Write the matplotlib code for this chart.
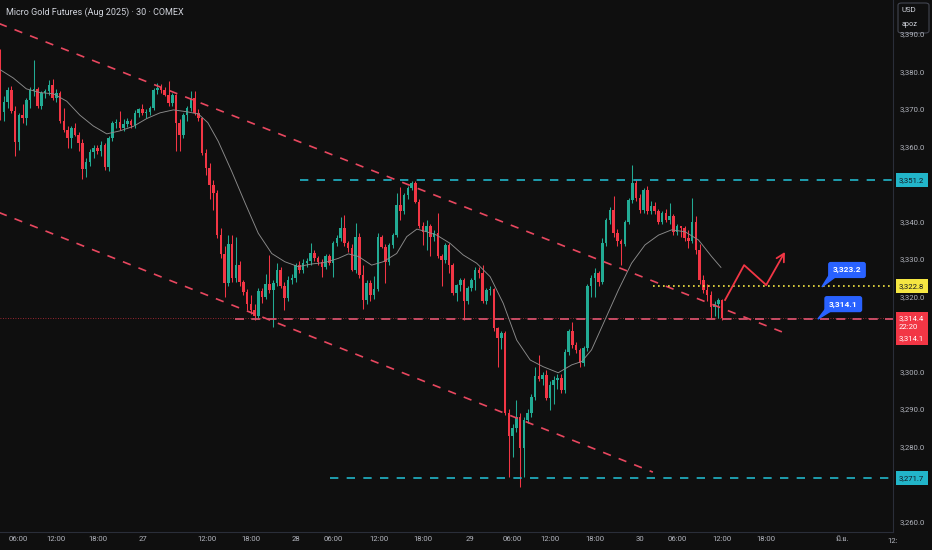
import matplotlib
matplotlib.use("Agg")
import matplotlib.pyplot as plt
import matplotlib.transforms as mtransforms
from matplotlib.patches import Rectangle, FancyBboxPatch, Polygon
from matplotlib import font_manager
from matplotlib.ft2font import FT2Font

# --------------------------------------------------
# Data (30 min candles)
# --------------------------------------------------

opens = [3384.0, 3369.4, 3372.0, 3375.2, 3369.5, 3361.4, 3368.5, 3367.8, 3372.5, 3374.8,
         3375.4, 3371.0, 3374.3, 3375.0, 3376.5, 3373.0, 3374.5, 3366.8, 3364.5, 3362.3,
         3365.0, 3363.2, 3361.1, 3354.0, 3356.0, 3358.7, 3359.6, 3359.0, 3360.5, 3354.6,
         3362.3, 3366.3, 3366.6, 3365.0, 3366.2, 3366.8, 3365.8, 3369.0, 3370.0, 3369.0,
         3369.3, 3370.3, 3375.2, 3375.7, 3375.2, 3373.9, 3371.6, 3373.8, 3366.3, 3363.2,
         3368.5, 3370.3, 3373.0, 3369.0, 3367.6, 3358.3, 3354.3, 3349.9, 3347.6, 3336.5,
         3331.5, 3323.6, 3334.0, 3325.0, 3328.5, 3324.0, 3321.4, 3318.0, 3316.5, 3314.8,
         3321.6, 3320.0, 3323.4, 3321.9, 3323.6, 3327.2, 3323.0, 3319.6, 3324.5, 3325.0,
         3328.5, 3327.2, 3329.0, 3329.5, 3331.6, 3330.3, 3329.4, 3328.1, 3330.8, 3329.0,
         3334.3, 3335.6, 3338.3, 3334.3, 3333.0, 3327.2, 3336.1, 3325.8, 3319.2, 3323.6,
         3320.5, 3322.0, 3336.1, 3333.4, 3329.4, 3333.9, 3336.5, 3344.5, 3342.8, 3347.2,
         3349.0, 3350.3, 3345.4, 3338.8, 3337.4, 3339.0, 3336.1, 3337.0, 3330.8, 3329.9,
         3333.9, 3328.5, 3321.0, 3323.2, 3324.5, 3318.8, 3322.3, 3324.5, 3327.2, 3326.5,
         3318.8, 3321.9, 3322.0, 3311.6, 3309.0, 3310.3, 3289.0, 3282.8, 3285.0, 3288.1,
         3279.7, 3287.2, 3289.0, 3293.4, 3298.8, 3298.0, 3299.2, 3293.0, 3296.5, 3297.9,
         3298.5, 3295.2, 3305.4, 3310.8, 3307.2, 3305.9, 3302.3, 3306.3, 3322.8, 3325.0,
         3326.3, 3324.0, 3334.3, 3340.5, 3343.2, 3337.0, 3334.8, 3334.0, 3340.1, 3345.9,
         3350.3, 3346.3, 3343.2, 3348.5, 3342.8, 3344.3, 3342.8, 3340.1, 3342.3, 3340.5,
         3341.5, 3337.4, 3338.8, 3338.3, 3335.6, 3335.0, 3340.1, 3332.5, 3324.5, 3321.9,
         3320.5, 3317.4, 3318.0, 3319.2]

highs = [3386.0, 3373.5, 3376.0, 3376.2, 3371.0, 3369.0, 3371.5, 3373.0, 3376.0, 3383.2,
         3376.0, 3375.0, 3375.5, 3377.9, 3378.0, 3375.5, 3375.0, 3370.3, 3365.5, 3365.5,
         3366.3, 3364.0, 3362.0, 3357.0, 3359.5, 3360.5, 3360.5, 3361.5, 3361.0, 3363.0,
         3367.0, 3367.5, 3369.7, 3367.5, 3367.8, 3367.5, 3369.8, 3370.5, 3371.5, 3370.0,
         3371.0, 3375.8, 3377.0, 3376.8, 3376.0, 3377.5, 3374.5, 3374.2, 3367.5, 3369.0,
         3371.0, 3374.8, 3375.0, 3370.0, 3368.0, 3359.5, 3355.6, 3351.2, 3348.5, 3338.5,
         3333.5, 3336.5, 3336.5, 3336.0, 3329.5, 3324.5, 3322.0, 3320.5, 3318.0, 3322.5,
         3322.5, 3326.0, 3331.2, 3324.5, 3329.0, 3328.0, 3324.0, 3325.5, 3326.0, 3329.0,
         3329.5, 3330.0, 3330.5, 3334.3, 3332.5, 3331.0, 3330.0, 3331.5, 3331.5, 3335.0,
         3336.5, 3341.4, 3341.9, 3335.0, 3334.0, 3339.6, 3337.0, 3328.5, 3324.5, 3324.5,
         3325.5, 3337.0, 3336.5, 3334.0, 3334.5, 3337.0, 3347.6, 3349.4, 3347.8, 3349.5,
         3350.8, 3350.8, 3346.0, 3340.1, 3340.5, 3339.5, 3337.8, 3342.3, 3331.5, 3334.5,
         3334.5, 3329.0, 3323.5, 3325.0, 3325.0, 3323.0, 3325.0, 3328.1, 3328.0, 3328.5,
         3322.5, 3323.0, 3322.5, 3312.0, 3311.0, 3311.0, 3290.0, 3286.0, 3292.5, 3289.0,
         3288.0, 3290.0, 3294.0, 3301.4, 3304.5, 3300.0, 3300.5, 3297.5, 3299.0, 3299.5,
         3299.5, 3306.0, 3311.5, 3313.4, 3308.0, 3306.5, 3307.0, 3323.5, 3325.8, 3327.7,
         3327.0, 3335.6, 3341.0, 3344.1, 3346.8, 3338.0, 3335.5, 3340.5, 3346.5, 3355.2,
         3351.2, 3347.5, 3349.0, 3349.5, 3345.5, 3345.4, 3343.5, 3342.8, 3343.5, 3345.0,
         3342.0, 3339.5, 3339.0, 3339.0, 3337.8, 3346.3, 3341.5, 3334.0, 3325.8, 3323.5,
         3321.5, 3318.8, 3319.8, 3319.5]

lows = [3367.2, 3367.0, 3370.5, 3369.0, 3357.5, 3359.2, 3366.5, 3365.8, 3370.5, 3373.5,
        3370.5, 3370.0, 3373.0, 3373.8, 3372.5, 3372.0, 3366.5, 3364.0, 3359.6, 3359.6,
        3362.8, 3358.8, 3351.4, 3352.0, 3355.0, 3357.0, 3358.0, 3357.5, 3353.8, 3353.7,
        3361.5, 3365.0, 3364.5, 3364.3, 3365.3, 3365.0, 3365.0, 3368.0, 3368.5, 3367.8,
        3368.5, 3369.8, 3374.0, 3374.5, 3373.5, 3371.0, 3371.0, 3359.0, 3359.0, 3362.5,
        3367.0, 3369.5, 3368.5, 3367.0, 3357.8, 3352.5, 3346.0, 3343.2, 3335.8, 3330.5,
        3320.1, 3323.0, 3324.0, 3324.0, 3323.0, 3320.5, 3316.5, 3315.5, 3313.9, 3314.0,
        3318.5, 3319.5, 3321.0, 3312.1, 3323.0, 3322.5, 3316.5, 3319.0, 3323.5, 3324.0,
        3326.5, 3326.5, 3328.0, 3328.5, 3329.5, 3328.5, 3325.4, 3327.5, 3328.5, 3325.4,
        3333.5, 3335.0, 3333.5, 3332.0, 3326.8, 3326.5, 3325.0, 3316.9, 3318.0, 3319.0,
        3319.5, 3321.5, 3333.0, 3323.6, 3328.5, 3333.0, 3336.0, 3340.5, 3342.0, 3346.0,
        3348.5, 3345.0, 3338.5, 3333.9, 3332.5, 3330.8, 3335.0, 3330.5, 3322.8, 3329.0,
        3326.3, 3320.5, 3318.8, 3321.5, 3313.9, 3318.0, 3321.5, 3321.9, 3325.0, 3318.5,
        3318.0, 3320.5, 3311.0, 3301.4, 3306.0, 3288.5, 3272.1, 3277.4, 3284.0, 3269.4,
        3272.1, 3286.5, 3288.0, 3292.5, 3297.5, 3296.5, 3292.5, 3289.9, 3291.5, 3295.5,
        3294.5, 3294.5, 3304.5, 3306.5, 3305.0, 3301.4, 3301.5, 3305.5, 3320.0, 3320.1,
        3323.0, 3323.5, 3333.5, 3339.5, 3336.0, 3333.5, 3328.5, 3333.5, 3339.5, 3345.0,
        3345.5, 3342.5, 3342.5, 3342.0, 3342.0, 3342.0, 3339.5, 3339.5, 3340.0, 3339.5,
        3336.5, 3336.5, 3336.0, 3335.0, 3333.0, 3334.5, 3331.5, 3323.5, 3321.0, 3319.0,
        3314.3, 3315.0, 3314.5, 3313.9]

closes = [3369.4, 3372.0, 3375.2, 3369.5, 3361.4, 3368.5, 3367.8, 3372.5, 3375.2, 3375.4,
          3371.0, 3374.3, 3375.0, 3376.5, 3373.0, 3374.5, 3366.8, 3364.5, 3362.3, 3365.0,
          3363.2, 3361.1, 3354.0, 3356.0, 3358.7, 3359.6, 3359.0, 3360.5, 3354.6, 3362.3,
          3366.3, 3366.6, 3365.0, 3366.2, 3366.8, 3365.8, 3369.0, 3370.0, 3369.0, 3369.3,
          3370.3, 3375.2, 3375.7, 3375.2, 3373.9, 3371.6, 3373.8, 3366.3, 3363.2, 3368.5,
          3370.3, 3373.0, 3369.0, 3367.6, 3358.3, 3354.3, 3349.9, 3347.6, 3336.5, 3331.5,
          3323.6, 3334.0, 3325.0, 3328.5, 3324.0, 3321.4, 3318.0, 3316.5, 3314.8, 3321.6,
          3320.0, 3323.4, 3321.9, 3323.6, 3327.2, 3323.0, 3319.6, 3324.5, 3325.0, 3328.5,
          3327.2, 3329.0, 3329.5, 3331.6, 3330.3, 3329.4, 3328.1, 3330.8, 3329.0, 3334.3,
          3335.6, 3338.3, 3334.3, 3333.0, 3327.2, 3336.1, 3325.8, 3319.2, 3323.6, 3320.5,
          3322.0, 3336.1, 3333.4, 3329.4, 3333.9, 3336.5, 3344.5, 3342.8, 3347.2, 3349.0,
          3350.3, 3345.4, 3338.8, 3337.4, 3339.0, 3336.1, 3337.0, 3330.8, 3329.9, 3333.9,
          3328.5, 3321.0, 3323.2, 3324.5, 3318.8, 3322.3, 3324.5, 3327.2, 3326.5, 3318.8,
          3321.9, 3322.0, 3311.6, 3309.0, 3310.3, 3289.0, 3282.8, 3285.0, 3288.1, 3279.7,
          3287.2, 3289.0, 3293.4, 3298.8, 3298.0, 3299.2, 3293.0, 3296.5, 3297.9, 3298.5,
          3295.2, 3305.4, 3310.8, 3307.2, 3305.9, 3302.3, 3306.3, 3322.8, 3325.0, 3326.3,
          3324.0, 3334.3, 3340.5, 3343.2, 3337.0, 3334.8, 3334.0, 3340.1, 3345.9, 3350.3,
          3346.3, 3343.2, 3348.5, 3342.8, 3344.3, 3342.8, 3340.1, 3342.3, 3340.5, 3341.5,
          3337.4, 3338.8, 3338.3, 3335.6, 3335.0, 3340.1, 3332.5, 3324.5, 3321.9, 3320.5,
          3317.4, 3318.0, 3319.2, 3314.4]

# moving average line (bar index, price)
ma_x = [0, 3.5, 7, 10.7, 14.2, 17.8, 21.3, 24.9, 28.5, 32, 35.6, 39.2, 42.7, 46.3, 49.9,
        53, 55.5, 58.3, 61.9, 65.5, 69, 72.6, 76.1, 79.7, 83.3, 86.8, 90.4, 93.1, 95.8,
        99.3, 102.4, 106, 108.7, 111.4, 114, 116.7, 120.3, 123.8, 127.4, 131, 134.5,
        138.1, 141.7, 145.2, 149.2, 152.8, 155.5, 158.1, 161.7, 165.3, 168.8, 172.4,
        176, 179.5, 183.1, 186.7, 190.2, 192.7]
ma_y = [3380.6, 3378.4, 3375.5, 3374.5, 3374.2, 3372.2, 3368.5, 3365.6, 3363.5, 3364.3,
        3365.5, 3367.6, 3369.1, 3369.9, 3369.4, 3368.8, 3366.5, 3361.5, 3353.5, 3345.0,
        3337.0, 3331.6, 3329.4, 3328.1, 3328.8, 3329.2, 3330.3, 3331.5, 3330.8, 3328.5,
        3329.4, 3331.6, 3336.1, 3338.1, 3337.4, 3336.5, 3334.3, 3331.2, 3329.0, 3325.4,
        3318.3, 3308.5, 3303.2, 3301.4, 3299.8, 3301.9, 3302.8, 3305.9, 3313.9, 3321.9,
        3329.0, 3333.9, 3336.5, 3337.9, 3337.4, 3335.2, 3330.8, 3327.9]

# time axis labels (bar index positions)
tick_pos = [4.8, 14.9, 26.2, 38.2, 55.3, 67.1, 79.1, 89.0, 101.3, 113.0, 125.6, 136.9,
            147.0, 159.0, 171.0, 181.0, 193.0, 204.8, 225.1]
tick_labels = ["06:00", "12:00", "18:00", "27", "12:00", "18:00", "28", "06:00", "12:00",
               "18:00", "29", "06:00", "12:00", "18:00", "30", "06:00", "12:00", "18:00",
               "มิ.ย."]

price_ticks = [3390, 3380, 3370, 3360, 3340, 3330, 3320, 3300, 3290, 3280, 3260]

# drawings
upper_channel = ([-1, 209.0], [3393.2, 3310.7])
lower_channel = ([-1, 174.5], [3342.8, 3273.3])
support_red = 3314.1
resist_cyan = 3351.2
low_cyan = 3271.7
yellow_level = 3322.8
last_price = 3314.4
path_x = [193.8, 198.9, 204.8, 209.8]
path_y = [3319.2, 3328.5, 3323.2, 3332.0]

# --------------------------------------------------
# Style
# --------------------------------------------------

BG = "#0f0f0f"
UP = "#22ab94"
DOWN = "#f23645"
CYAN = "#22b5c9"
PINK = "#e8475f"
AXIS_TXT = "#b2b5be"
GRIDLINE = "#2a2e39"


def find_thai_family():
    # look for any installed font that has Thai glyphs
    for f in font_manager.fontManager.ttflist:
        try:
            if 0x0E21 in FT2Font(f.fname).get_charmap():
                return f.name
        except Exception:
            pass
    return None


thai = find_thai_family()
plt.rcParams["font.family"] = ["Roboto", "DejaVu Sans"]
tick_family = ["Roboto"] + ([thai] if thai else []) + ["DejaVu Sans"]

fig = plt.figure(figsize=(9.32, 5.5), dpi=100, facecolor=BG)
ax = fig.add_axes([0, 18 / 550, 893 / 932, 532 / 550])
ax.set_facecolor(BG)
ax.set_xlim(-0.05, 238.7)
ax.set_ylim(3257.33, 3399.2)

for s in ["top", "left"]:
    ax.spines[s].set_visible(False)
ax.spines["right"].set_color(GRIDLINE)
ax.spines["bottom"].set_color(GRIDLINE)
ax.set_yticks([])
ax.tick_params(axis="x", length=0, pad=3, colors=AXIS_TXT, labelsize=5.6)
ax.set_xticks(tick_pos)
ax.set_xticklabels(tick_labels, family=tick_family)

# --------------------------------------------------
# Candles
# --------------------------------------------------

idx = list(range(len(closes)))
colors = [UP if c >= o else DOWN for o, c in zip(opens, closes)]
ax.vlines(idx, lows, highs, colors=colors, linewidth=0.75, zorder=3)
bottoms = [min(o, c) for o, c in zip(opens, closes)]
heights = [max(abs(c - o), 0.25) for o, c in zip(opens, closes)]
ax.bar(idx, heights, bottom=bottoms, width=0.68, color=colors, linewidth=0, zorder=4)

# moving average
ax.plot(ma_x, ma_y, color="#8c8c8c", linewidth=0.65, zorder=5)

# --------------------------------------------------
# Drawings
# --------------------------------------------------

ax.plot(*upper_channel, color=PINK, linewidth=1.2, dashes=(5, 5), zorder=6)
ax.plot(*lower_channel, color=PINK, linewidth=1.2, dashes=(5, 5), zorder=6)

ax.axhline(last_price, color=DOWN, linewidth=0.6, linestyle=(0, (1, 2)), alpha=0.8, zorder=2)
ax.plot([62.8, 238.7], [support_red, support_red], color="#d4506a", linewidth=1.3,
        dashes=(5, 4), zorder=6)
ax.plot([80.2, 238.7], [resist_cyan, resist_cyan], color=CYAN, linewidth=1.2,
        dashes=(5, 5), zorder=6)
ax.plot([88.2, 238.7], [low_cyan, low_cyan], color=CYAN, linewidth=1.2,
        dashes=(5, 5), zorder=6)
ax.plot([174.5, 238.7], [yellow_level, yellow_level], color="#f5e642", linewidth=1.2,
        linestyle=(0, (1, 2)), zorder=6)

# projected path
ax.plot(path_x[:3], path_y[:3], color=DOWN, linewidth=1.3, zorder=7)
ax.annotate("", xy=(path_x[3], path_y[3]), xytext=(path_x[2], path_y[2]),
            arrowprops=dict(arrowstyle="->,head_length=0.55,head_width=0.3",
                            color=DOWN, lw=1.3, shrinkA=0, shrinkB=0),
            zorder=7)

# blue price callouts
for txt, bx, by, tipx, tipy in [("3,323.2", 226.4, 3327.2, 219.7, 3322.7),
                                 ("3,314.1", 225.4, 3318.1, 218.6, 3314.1)]:
    ax.add_patch(Polygon([[bx - 4.5, by - 1.0], [bx - 2.0, by - 1.0], [tipx, tipy]],
                         closed=True, color="#2962ff", zorder=8))
    ax.text(bx, by, txt, color="white", fontsize=6.0, fontweight="bold",
            ha="center", va="center", zorder=9,
            bbox=dict(boxstyle="round,pad=0.55,rounding_size=0.3", fc="#2962ff", ec="none"))

# --------------------------------------------------
# Price scale (right side)
# --------------------------------------------------

blend = mtransforms.blended_transform_factory(fig.transFigure, ax.transData)
x_lab = 900 / 932
for p in price_ticks:
    fig.text(x_lab, p, f"{p:,.1f}", transform=blend, color=AXIS_TXT, fontsize=5.6,
             ha="left", va="center")

ph = 14 / 3.75  # box height in price units
for val, fc, tc in [(resist_cyan, CYAN, "#131722"), (yellow_level, "#f5e642", "#131722"),
                    (low_cyan, CYAN, "#131722")]:
    fig.patches.append(Rectangle((896 / 932, val - ph / 2), 32 / 932, ph, transform=blend,
                                 facecolor=fc, edgecolor="none", zorder=3))
    fig.text(899 / 932, val, f"{val:,.1f}", transform=blend, color=tc, fontsize=5.6,
             ha="left", va="center", zorder=4)

# last price block with countdown
top_p = 3320 + (297 - 312) / 3.75
bot_p = 3320 + (297 - 345) / 3.75
fig.patches.append(Rectangle((896 / 932, bot_p), 32 / 932, top_p - bot_p, transform=blend,
                             facecolor=DOWN, edgecolor="none", zorder=3))
for row_y, txt in [(318.3, "3,314.4"), (327.5, "22:20"), (338.5, "3,314.1")]:
    fig.text(899 / 932, 3320 + (297 - row_y) / 3.75, txt, transform=blend, color="white",
             fontsize=5.6, ha="left", va="center", zorder=4)

# currency / unit box
fig.patches.append(FancyBboxPatch((898 / 932, 1 - 33 / 550), 31 / 932, 30 / 550,
                                  boxstyle="round,pad=0,rounding_size=0.004",
                                  transform=fig.transFigure, facecolor=BG,
                                  edgecolor="#434651", linewidth=0.8, zorder=3))
fig.text(902 / 932, 1 - 10 / 550, "USD", color="#d1d4dc", fontsize=5.6, va="center", zorder=4)
fig.text(902 / 932, 1 - 25 / 550, "apoz", color="#d1d4dc", fontsize=5.2, va="center", zorder=4)

# last partially hidden time label
fig.text(887 / 932, 9 / 550, "12:", color=AXIS_TXT, fontsize=5.6, va="center")

# title
fig.text(6 / 932, 1 - 12 / 550, "Micro Gold Futures (Aug 2025) · 30 · COMEX",
         color="#d1d4dc", fontsize=6.5, va="center")

fig.savefig("out.png", dpi=100, facecolor=BG)
